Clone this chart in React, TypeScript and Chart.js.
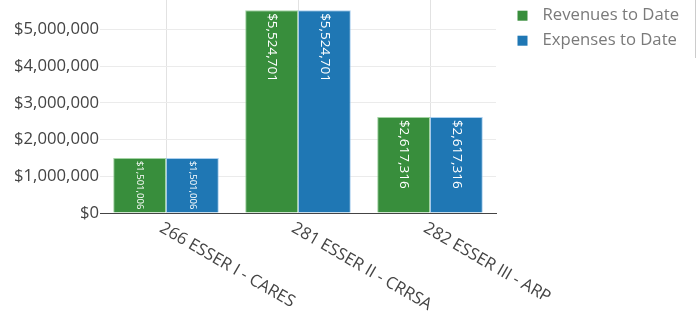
import React, { useEffect, useRef } from "react";
import { Chart, registerables } from "chart.js";

Chart.register(...registerables);

const categories = ["266 ESSER I - CARES", "281 ESSER II - CRRSA", "282 ESSER III - ARP"];
const revenues = [1501006, 5524701, 2617316];
const expenses = [1501006, 5524701, 2617316];
const seriesNames = ["Revenues to Date", "Expenses to Date"];
const yTicks = [0, 1000000, 2000000, 3000000, 4000000, 5000000];

const GREEN = "#388e3c";
const BLUE = "#1f77b4";
const FONT = "'Open Sans', 'Noto Sans', sans-serif";
const TEXT_SIZE = 16.7;

const fmt = (v: number) => "$" + Math.round(v).toLocaleString("en-US");

const overlayPlugin = {
  id: "overlay",
  afterDatasetsDraw(chart: any) {
    const ctx = chart.ctx;
    ctx.save();
    chart.data.datasets.forEach((ds: any, di: number) => {
      const meta = chart.getDatasetMeta(di);
      meta.data.forEach((bar: any, i: number) => {
        const text = fmt(ds.data[i]);
        const h = bar.base - bar.y;
        let size = 13.5;
        ctx.font = `${size}px ${FONT}`;
        const w = ctx.measureText(text).width;
        if (w > h - 6) {
          size = size * (h - 6) / w;
          ctx.font = `${size}px ${FONT}`;
        }
        ctx.save();
        ctx.translate(bar.x, bar.y + 3);
        ctx.rotate(Math.PI / 2);
        ctx.fillStyle = "#ffffff";
        ctx.textAlign = "left";
        ctx.textBaseline = "middle";
        ctx.fillText(text, 0, 0);
        ctx.restore();
      });
    });
    ctx.restore();
  },
  afterDraw(chart: any) {
    const ctx = chart.ctx;
    const xs = chart.scales.x;
    const bottom = chart.chartArea.bottom;
    ctx.save();
    ctx.font = `${TEXT_SIZE}px ${FONT}`;
    ctx.fillStyle = "#444444";
    ctx.textAlign = "left";
    ctx.textBaseline = "middle";
    categories.forEach((c, i) => {
      const x = xs.getPixelForTick(i);
      ctx.save();
      ctx.translate(x - 5, bottom + 14);
      ctx.rotate(Math.PI / 6);
      ctx.fillText(c, 0, 0);
      ctx.restore();
    });
    // legend
    const colors = [GREEN, BLUE];
    seriesNames.forEach((n, i) => {
      const cy = 15.7 + i * 25;
      ctx.fillStyle = colors[i];
      ctx.fillRect(517.5, cy - 5, 10, 10);
      ctx.fillStyle = "#7a7a7a";
      ctx.fillText(n, 542.5, cy);
    });
    // right edge border
    ctx.strokeStyle = "#cccccc";
    ctx.lineWidth = 1;
    ctx.beginPath();
    ctx.moveTo(695.5, 0);
    ctx.lineTo(695.5, 58);
    ctx.stroke();
    ctx.restore();
  },
};

export default function App() {
  const ref = useRef<HTMLCanvasElement | null>(null);
  useEffect(() => {
    if (!ref.current) return;
    const yMax = Math.max(...revenues, ...expenses) * 1.05;
    const chart = new Chart(ref.current, {
      type: "bar",
      data: {
        labels: categories,
        datasets: [
          {
            label: seriesNames[0],
            data: revenues,
            backgroundColor: GREEN,
            borderColor: "rgba(140,200,140,0.8)",
            borderWidth: 1,
            categoryPercentage: 0.8,
            barPercentage: 1.0,
          },
          {
            label: seriesNames[1],
            data: expenses,
            backgroundColor: BLUE,
            borderColor: "rgba(150,195,235,0.8)",
            borderWidth: 1,
            categoryPercentage: 0.8,
            barPercentage: 1.0,
          },
        ],
      },
      options: {
        responsive: false,
        animation: false,
        layout: { padding: { left: 0, right: 201, top: 0, bottom: 0 } },
        plugins: {
          legend: { display: false },
          tooltip: { enabled: false },
        },
        scales: {
          x: {
            ticks: { display: false },
            grid: { display: true, offset: false, drawTicks: false, color: "#e2e2e2" },
            border: { display: true, color: "#444444", width: 1 },
            afterFit: (s: any) => {
              s.height = 100;
              s.paddingLeft = 0;
              s.paddingRight = 0;
            },
          },
          y: {
            min: 0,
            max: yMax,
            ticks: {
              autoSkip: false,
              padding: 1,
              color: "#444444",
              font: { family: FONT, size: TEXT_SIZE },
              callback: (v: any) => fmt(Number(v)),
            },
            afterBuildTicks: (s: any) => {
              s.ticks = yTicks.map((v) => ({ value: v }));
            },
            grid: {
              drawTicks: false,
              color: (c: any) => (c.tick && c.tick.value === 0 ? "rgba(0,0,0,0)" : "#ebebeb"),
            },
            border: { display: false },
            afterFit: (s: any) => {
              s.width = 100;
              s.paddingTop = 0;
              s.paddingBottom = 0;
            },
          },
        },
      },
      plugins: [overlayPlugin],
    });
    return () => chart.destroy();
  }, []);
  return (
    <div style={{ position: "fixed", left: 0, top: 0, width: 697, height: 313, background: "#fff" }}>
      <canvas ref={ref} width={697} height={313} />
    </div>
  );
}
